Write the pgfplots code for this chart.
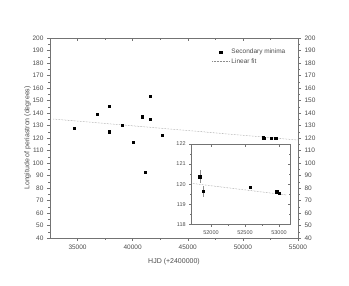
\documentclass[border=0pt]{standalone}
\usepackage{pgfplots}
\pgfplotsset{compat=1.18}
\usepackage{fontspec}
\setmainfont{Liberation Sans}
\definecolor{axgray}{gray}{0.45}
\definecolor{txtgray}{gray}{0.3}
\definecolor{fitgray}{gray}{0.55}
\begin{document}
\begin{tikzpicture}
\path[use as bounding box] (0,0) rectangle (349pt,285pt);
\pgfplotsset{
  every axis/.append style={
    scaled ticks=false,
    /pgf/number format/assume math mode=true,
    /pgf/number format/1000 sep={},
    axis line style={axgray, line width=0.5pt},
    every tick/.style={axgray, line width=0.4pt},
    major tick length=3pt, minor tick length=1.6pt,
    tick label style={font=\fontsize{6.5}{7}\selectfont, text=txtgray},
    label style={font=\fontsize{7}{8}\selectfont, text=txtgray},
  }
}
% main axis
\begin{axis}[scale only axis, width=248pt, height=200pt, at={(50pt,47pt)}, anchor=south west,
  xmin=32500, xmax=55000, ymin=40, ymax=200,
  xtick={35000,40000,45000,50000,55000}, minor x tick num=1,
  ytick distance=10, minor y tick num=1,
  tick align=outside, xtick pos=bottom, ytick pos=left,
  xlabel={HJD (+2400000)}, ylabel={Longitude of periastron (degrees)},
  xlabel style={yshift=-2pt}, ylabel style={yshift=-5pt},
  legend style={at={(0.64,0.965)}, anchor=north west, draw=none, fill=none,
    font=\fontsize{6.5}{7.5}\selectfont, text=txtgray, legend cell align=left,
    row sep=-1pt},
]
\addplot[only marks, mark=square*, mark size=1.1pt, black] coordinates {
  (34660,127.8) (36790,139.2) (37900,145.3) (37900,125.1) (39030,130.0)
  (40030,116.8) (40880,137.1) (41570,153.4) (41570,135.2) (42700,122.4)
  (41150,92.9) (51834,120.37) (51884,119.63) (52574,119.84) (52966,119.62) (53004,119.53)
};
\addlegendentry{Secondary minima}
\addplot[densely dotted, fitgray, line width=0.5pt] coordinates {(32800,135.2) (55000,118.4)};
\addlegendentry{Linear fit}
\end{axis}
% right labels
\begin{axis}[scale only axis, width=248pt, height=200pt, at={(50pt,47pt)}, anchor=south west,
  xmin=32500, xmax=55000, ymin=40, ymax=200, hide x axis,
  ytick distance=10, minor y tick num=1,
  tick align=outside, ytick pos=right, yticklabel pos=right]
\end{axis}
% top ticks
\begin{axis}[scale only axis, width=248pt, height=200pt, at={(50pt,47pt)}, anchor=south west,
  xmin=32500, xmax=55000, ymin=40, ymax=200, hide y axis,
  xtick={35000,40000,45000,50000,55000}, minor x tick num=1,
  tick align=inside, xtick pos=top, xticklabels={}]
\end{axis}
% inset
\begin{axis}[scale only axis, width=98.3pt, height=80.3pt, at={(191.7pt,60.7pt)}, anchor=south west,
  xmin=51716, xmax=53162, ymin=118, ymax=122,
  axis background/.style={fill=white},
  xtick={52000,52500,53000}, minor x tick num=1,
  ytick={118,119,120,121,122}, minor y tick num=1,
  tick align=outside, xtick pos=bottom, ytick pos=left,
  tick label style={font=\fontsize{5.5}{6}\selectfont, text=txtgray},
  major tick length=2.5pt, minor tick length=1.3pt,
]
\addplot[only marks, mark=square*, mark size=1.1pt, black,
  error bars/.cd, y dir=both, y explicit, error mark=none,
  error bar style={fitgray, line width=0.4pt}]
  coordinates {
  (51834,120.37) +- (0,0.33)
  (51884,119.63) +- (0,0.27)
  (52574,119.84) +- (0,0)
  (52966,119.62) +- (0,0)
  (53004,119.53) +- (0,0)
};
\addplot[densely dotted, fitgray, line width=0.5pt] coordinates {(51716,120.04) (53110,119.46)};
\end{axis}
\begin{axis}[scale only axis, width=98.3pt, height=80.3pt, at={(191.7pt,60.7pt)}, anchor=south west,
  xmin=51716, xmax=53162, ymin=118, ymax=122,
  xtick={52000,52500,53000}, minor x tick num=1,
  ytick={118,119,120,121,122}, minor y tick num=1,
  tick align=inside, xtick pos=top, ytick pos=right, xticklabels={}, yticklabels={},
  major tick length=2.5pt, minor tick length=1.3pt,
]
\end{axis}
\end{tikzpicture}
\end{document}
